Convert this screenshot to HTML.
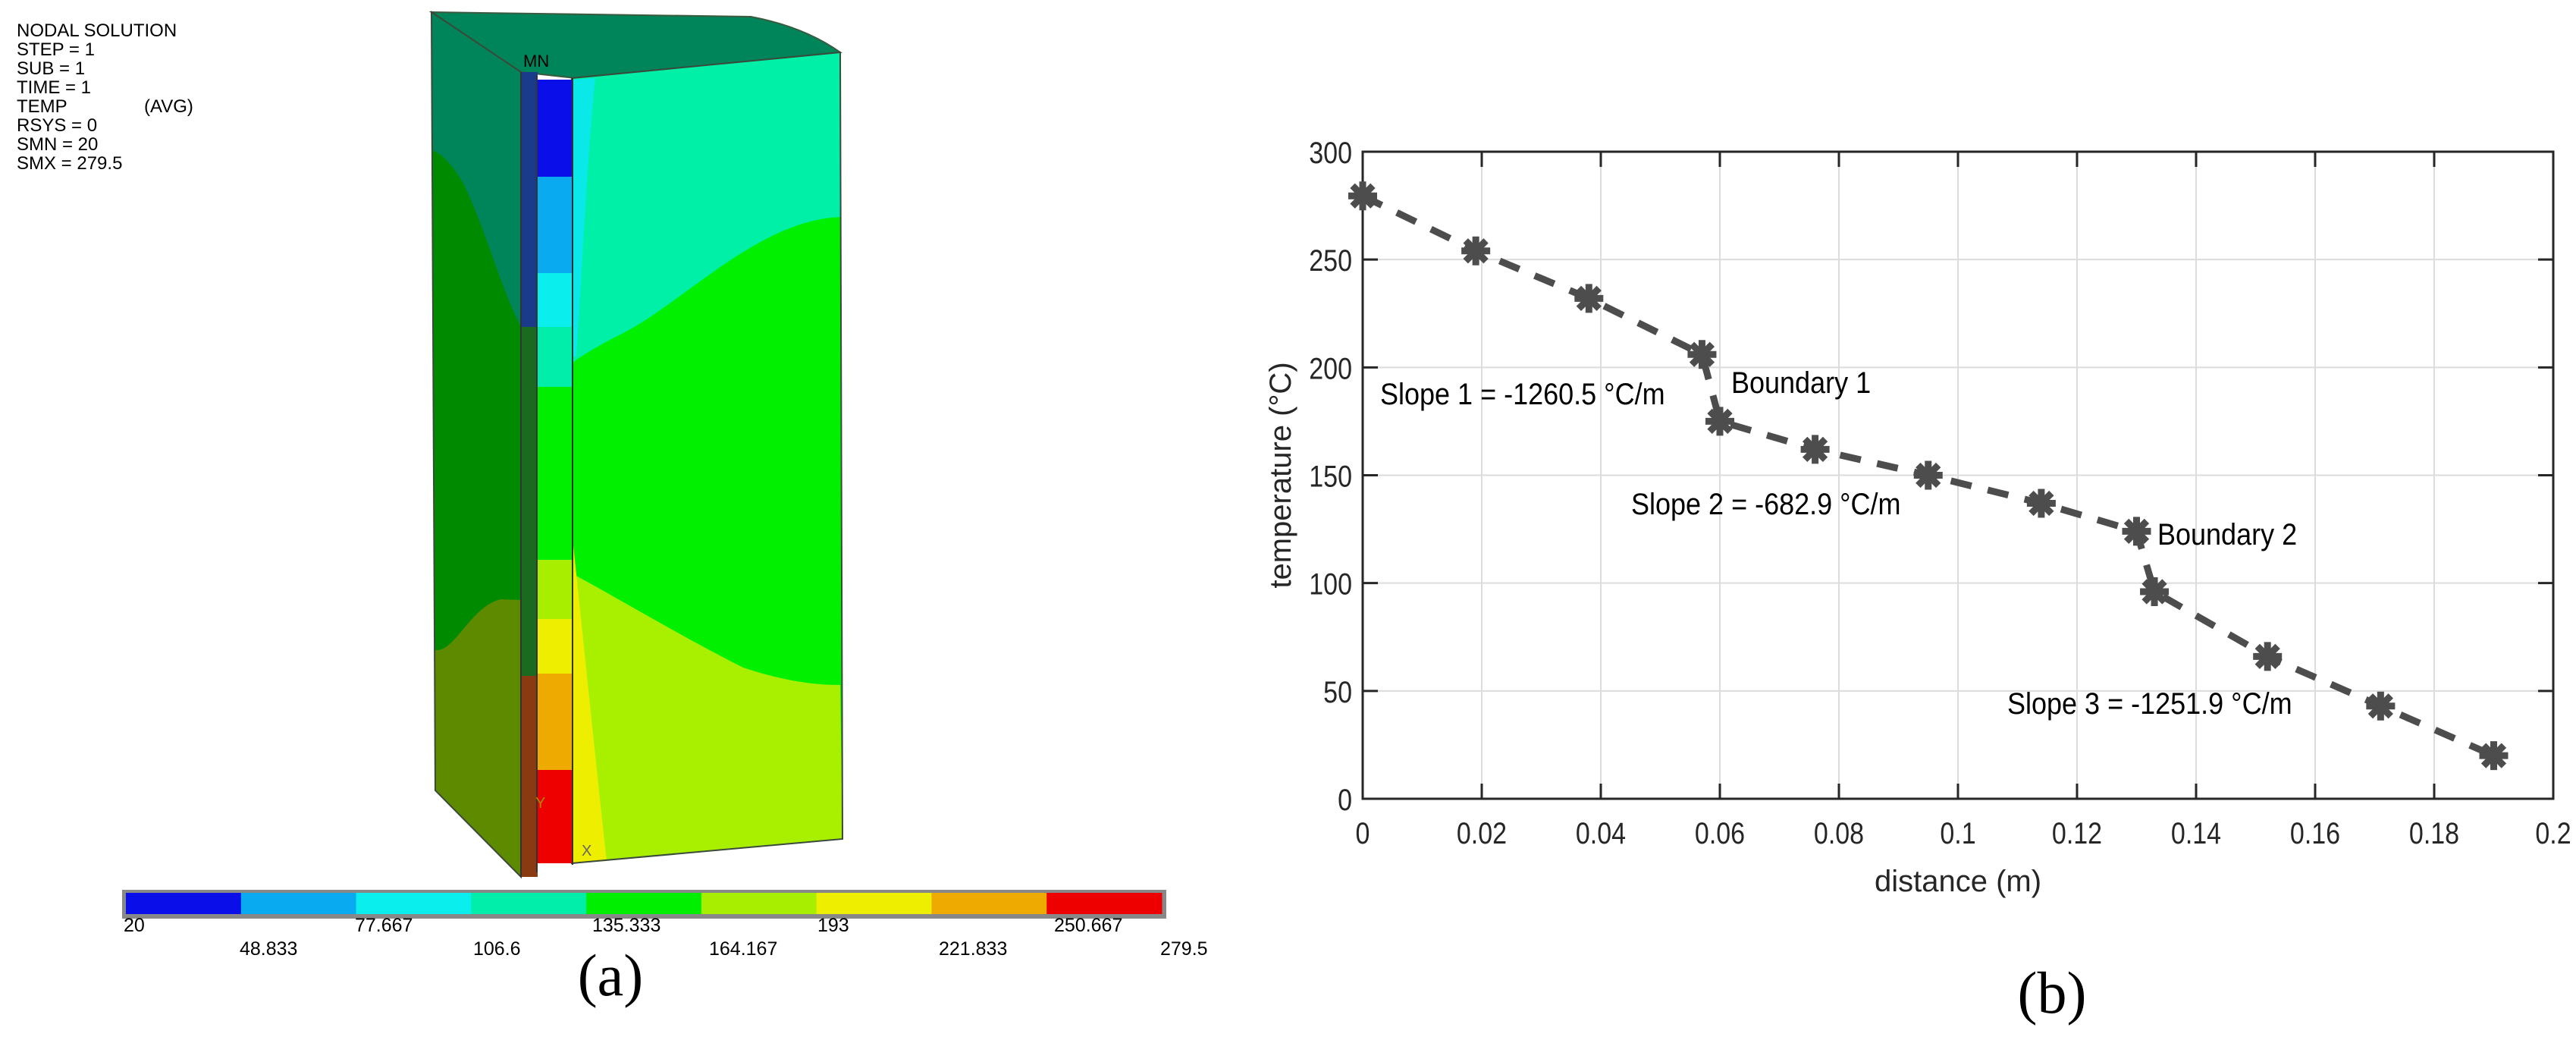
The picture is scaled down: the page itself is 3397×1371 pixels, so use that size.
<!DOCTYPE html>
<html><head><meta charset="utf-8">
<style>
html,body{margin:0;padding:0;background:#fff;}
svg{display:block;}
text{font-family:"Liberation Sans",sans-serif;}
</style></head>
<body>
<svg id="root" width="3397" height="1371" viewBox="0 0 3397 1371" xmlns="http://www.w3.org/2000/svg">
<rect width="3397" height="1371" fill="#fff"/>

<!-- ===== Panel (a) ===== -->
<g font-size="24" fill="#000">
  <text x="22" y="48">NODAL SOLUTION</text>
  <text x="22" y="73">STEP = 1</text>
  <text x="22" y="98">SUB =  1</text>
  <text x="22" y="123">TIME = 1</text>
  <text x="22" y="148">TEMP</text><text x="190" y="148">(AVG)</text>
  <text x="22" y="173">RSYS = 0</text>
  <text x="22" y="198">SMN  =  20</text>
  <text x="22" y="223">SMX  = 279.5</text>
</g>

<g>
  <path d="M569 16 L990 22 Q1060 35 1108 69 L759 103 L687 95 Z" fill="#00845a" stroke="#3a5a40" stroke-width="2"/>
  <path d="M569 16 L687 95 L687 1156 L574 1042 Z" fill="#008a00"/>
  <path d="M569 16 L687 95 L687 431 C660 380 640 300 610 240 C595 215 580 200 569 198 Z" fill="#00845a"/>
  <path d="M574 857 C600 860 620 800 660 790 L687 791 L687 1156 L574 1042 Z" fill="#5e8a00"/>
  <path d="M569 16 L687 95 L687 1156 L574 1042 Z" fill="none" stroke="#3a4a3a" stroke-width="2"/>
  <path d="M754 103 L1108 69 L1111 1106 L754 1138 Z" fill="#00f000"/>
  <path d="M754 103 L1108 69 L1108 286 C1000 290 900 400 820 440 C790 455 765 470 754 479 Z" fill="#00f0a8"/>
  <path d="M754 756 C800 780 900 840 980 880 C1040 900 1080 903 1108 903 L1111 1106 L754 1138 Z" fill="#a8f000"/>
  <path d="M754 700 C770 850 785 1000 800 1135 L754 1138 Z" fill="#eeee00"/>
  <path d="M754 105 L785 103 C775 200 768 350 760 470 L754 470 Z" fill="#0ae8e8"/>
  <path d="M754 103 L1108 69 L1111 1106 L754 1138 Z" fill="none" stroke="#3a4a3a" stroke-width="2"/>
  <rect x="687" y="95" width="22" height="1061" fill="#1a3a8a"/>
  <rect x="687" y="431" width="22" height="460" fill="#1a6a20"/>
  <rect x="687" y="891" width="22" height="265" fill="#8a3a10"/>
  <rect x="708" y="105" width="47" height="128" fill="#0a0ee8"/>
  <rect x="708" y="233" width="47" height="127" fill="#0aaaf0"/>
  <rect x="708" y="360" width="47" height="71" fill="#0aeeee"/>
  <rect x="708" y="431" width="47" height="79" fill="#00eeaa"/>
  <rect x="708" y="510" width="47" height="228" fill="#00ee00"/>
  <rect x="708" y="738" width="47" height="78" fill="#a8ee00"/>
  <rect x="708" y="816" width="47" height="72" fill="#eeee00"/>
  <rect x="708" y="888" width="47" height="127" fill="#eeaa00"/>
  <rect x="708" y="1015" width="47" height="123" fill="#ee0000"/>
  <path d="M687 95 L687 1156 M708 100 L708 1150 M755 103 L755 1140" stroke="#333" stroke-width="2"/>
  <text x="690" y="88" font-size="22">MN</text>
  <text x="767" y="1128" font-size="20" fill="#666">X</text>
  <text x="706" y="1065" font-size="20" fill="#aa8800">Y</text>
</g>

<g>
  <rect x="161" y="1173" width="1377" height="38" fill="#888"/>
  <g id="cbar"></g>
</g>
<g font-size="25" fill="#000">
  <text x="163" y="1228">20</text>
  <text x="468" y="1228">77.667</text>
  <text x="781" y="1228">135.333</text>
  <text x="1078" y="1228">193</text>
  <text x="1390" y="1228">250.667</text>
  <text x="316" y="1259">48.833</text>
  <text x="624" y="1259">106.6</text>
  <text x="935" y="1259">164.167</text>
  <text x="1238" y="1259">221.833</text>
  <text x="1530" y="1259">279.5</text>
</g>
<text x="805" y="1312" font-size="78" text-anchor="middle" style="font-family:'Liberation Serif',serif">(a)</text>

<!-- ===== Panel (b) chart ===== -->
<g id="chart"></g>
<text x="2706" y="1335" font-size="78" text-anchor="middle" style="font-family:'Liberation Serif',serif">(b)</text>
</svg>

<script>
const xValues = [0, 0.019, 0.038, 0.057, 0.06, 0.076, 0.095, 0.114, 0.13, 0.133, 0.152, 0.171, 0.19];
const yValues = [279.5, 254, 232, 206, 175, 162, 150, 137, 124, 96, 66, 43, 20];
const xTicks = [0, 0.02, 0.04, 0.06, 0.08, 0.1, 0.12, 0.14, 0.16, 0.18, 0.2];
const xTickLabels = ["0","0.02","0.04","0.06","0.08","0.1","0.12","0.14","0.16","0.18","0.2"];
const yTicks = [0, 50, 100, 150, 200, 250, 300];
const yTickLabels = ["0","50","100","150","200","250","300"];
const legendColors = ["#0a0ee8","#0aaaf0","#0aeeee","#00eeaa","#00ee00","#a8ee00","#eeee00","#eeaa00","#ee0000"];

const NS = "http://www.w3.org/2000/svg";
function mk(tag, attrs, parent){const e=document.createElementNS(NS,tag);for(const k in attrs)e.setAttribute(k,attrs[k]);parent.appendChild(e);return e;}

const cb = document.getElementById('cbar');
const cbX0=166, cbW=1366, segW=cbW/legendColors.length;
legendColors.forEach((c,i)=>{
  const r=mk('rect',{x:cbX0+i*segW,y:1177,width:segW+0.5,height:28,fill:c},cb);
  
  
});

const L=1797, R=3367, T=200, B=1053;
const xMin=0,xMax=0.2,yMin=0,yMax=300;
const sx = v => L + (v-xMin)/(xMax-xMin)*(R-L);
const sy = v => B - (v-yMin)/(yMax-yMin)*(B-T);
const g = document.getElementById('chart');

xTicks.forEach(t=>{
  const l=mk('line',{x1:sx(t),x2:sx(t),y1:T,y2:B,stroke:'#dcdcdc','stroke-width':2},g);
  
  
});
yTicks.forEach(t=>{
  const l=mk('line',{x1:L,x2:R,y1:sy(t),y2:sy(t),stroke:'#dcdcdc','stroke-width':2},g);
  
  
});
xTicks.forEach((t,i)=>{
  mk('line',{x1:sx(t),x2:sx(t),y1:B,y2:B-20,stroke:'#262626','stroke-width':3},g);
  mk('line',{x1:sx(t),x2:sx(t),y1:T,y2:T+20,stroke:'#262626','stroke-width':3},g);
  const tx=mk('text',{x:sx(t),y:1112,'font-size':40,'text-anchor':'middle',fill:'#262626',transform:`translate(${sx(t)},0) scale(0.85,1) translate(${-sx(t)},0)`},g);
  tx.textContent=xTickLabels[i];
  
  
});
yTicks.forEach((t,i)=>{
  mk('line',{x1:L,x2:L+20,y1:sy(t),y2:sy(t),stroke:'#262626','stroke-width':3},g);
  mk('line',{x1:R,x2:R-20,y1:sy(t),y2:sy(t),stroke:'#262626','stroke-width':3},g);
  const tx=mk('text',{x:L-14,y:sy(t)+15,'font-size':40,'text-anchor':'end',fill:'#262626',transform:`translate(${L-14},0) scale(0.85,1) translate(${-(L-14)},0)`},g);
  tx.textContent=yTickLabels[i];
  
  
});
const frame=mk('rect',{x:L,y:T,width:R-L,height:B-T,fill:'none',stroke:'#262626','stroke-width':3},g);



const xt=mk('text',{x:(L+R)/2,y:1175,'font-size':40,'text-anchor':'middle',fill:'#262626'},g);
xt.textContent='distance (m)';


const yt=mk('text',{x:0,y:0,'font-size':40,'text-anchor':'middle',fill:'#262626',transform:`translate(1702,${(T+B)/2}) rotate(-90)`},g);
yt.textContent='temperature (°C)';



const pts=xValues.map((x,i)=>sx(x)+','+sy(yValues[i])).join(' ');
const line=mk('polyline',{points:pts,fill:'none',stroke:'#4d4d4d','stroke-width':9,'stroke-dasharray':'28 22'},g);


xValues.forEach((x,i)=>{
  const cx=sx(x), cy=sy(yValues[i]);
  const m=mk('g',{stroke:'#4d4d4d','stroke-width':9,'stroke-linecap':'butt'},g);
  
  
  for(let a=0;a<180;a+=45){
    const r=19, rad=a*Math.PI/180;
    mk('line',{x1:cx-r*Math.cos(rad),y1:cy-r*Math.sin(rad),x2:cx+r*Math.cos(rad),y2:cy+r*Math.sin(rad)},m);
  }
  mk('circle',{cx:cx,cy:cy,r:11,fill:'#4d4d4d',stroke:'none'},m);
});

const ann=[['Slope 1 = -1260.5 °C/m',1820,533,'slope-1-annotation'],['Boundary 1',2283,518,'boundary-1-annotation'],['Slope 2 = -682.9 °C/m',2151,678,'slope-2-annotation'],['Boundary 2',2845,718,'boundary-2-annotation'],['Slope 3 = -1251.9 °C/m',2647,941,'slope-3-annotation']];
ann.forEach(a=>{
  const t=mk('text',{x:a[1],y:a[2],'font-size':40,fill:'#000',transform:`translate(${a[1]},0) scale(0.9,1) translate(${-a[1]},0)`},g);
  t.textContent=a[0];
  
  
});
</script>
</body></html>
